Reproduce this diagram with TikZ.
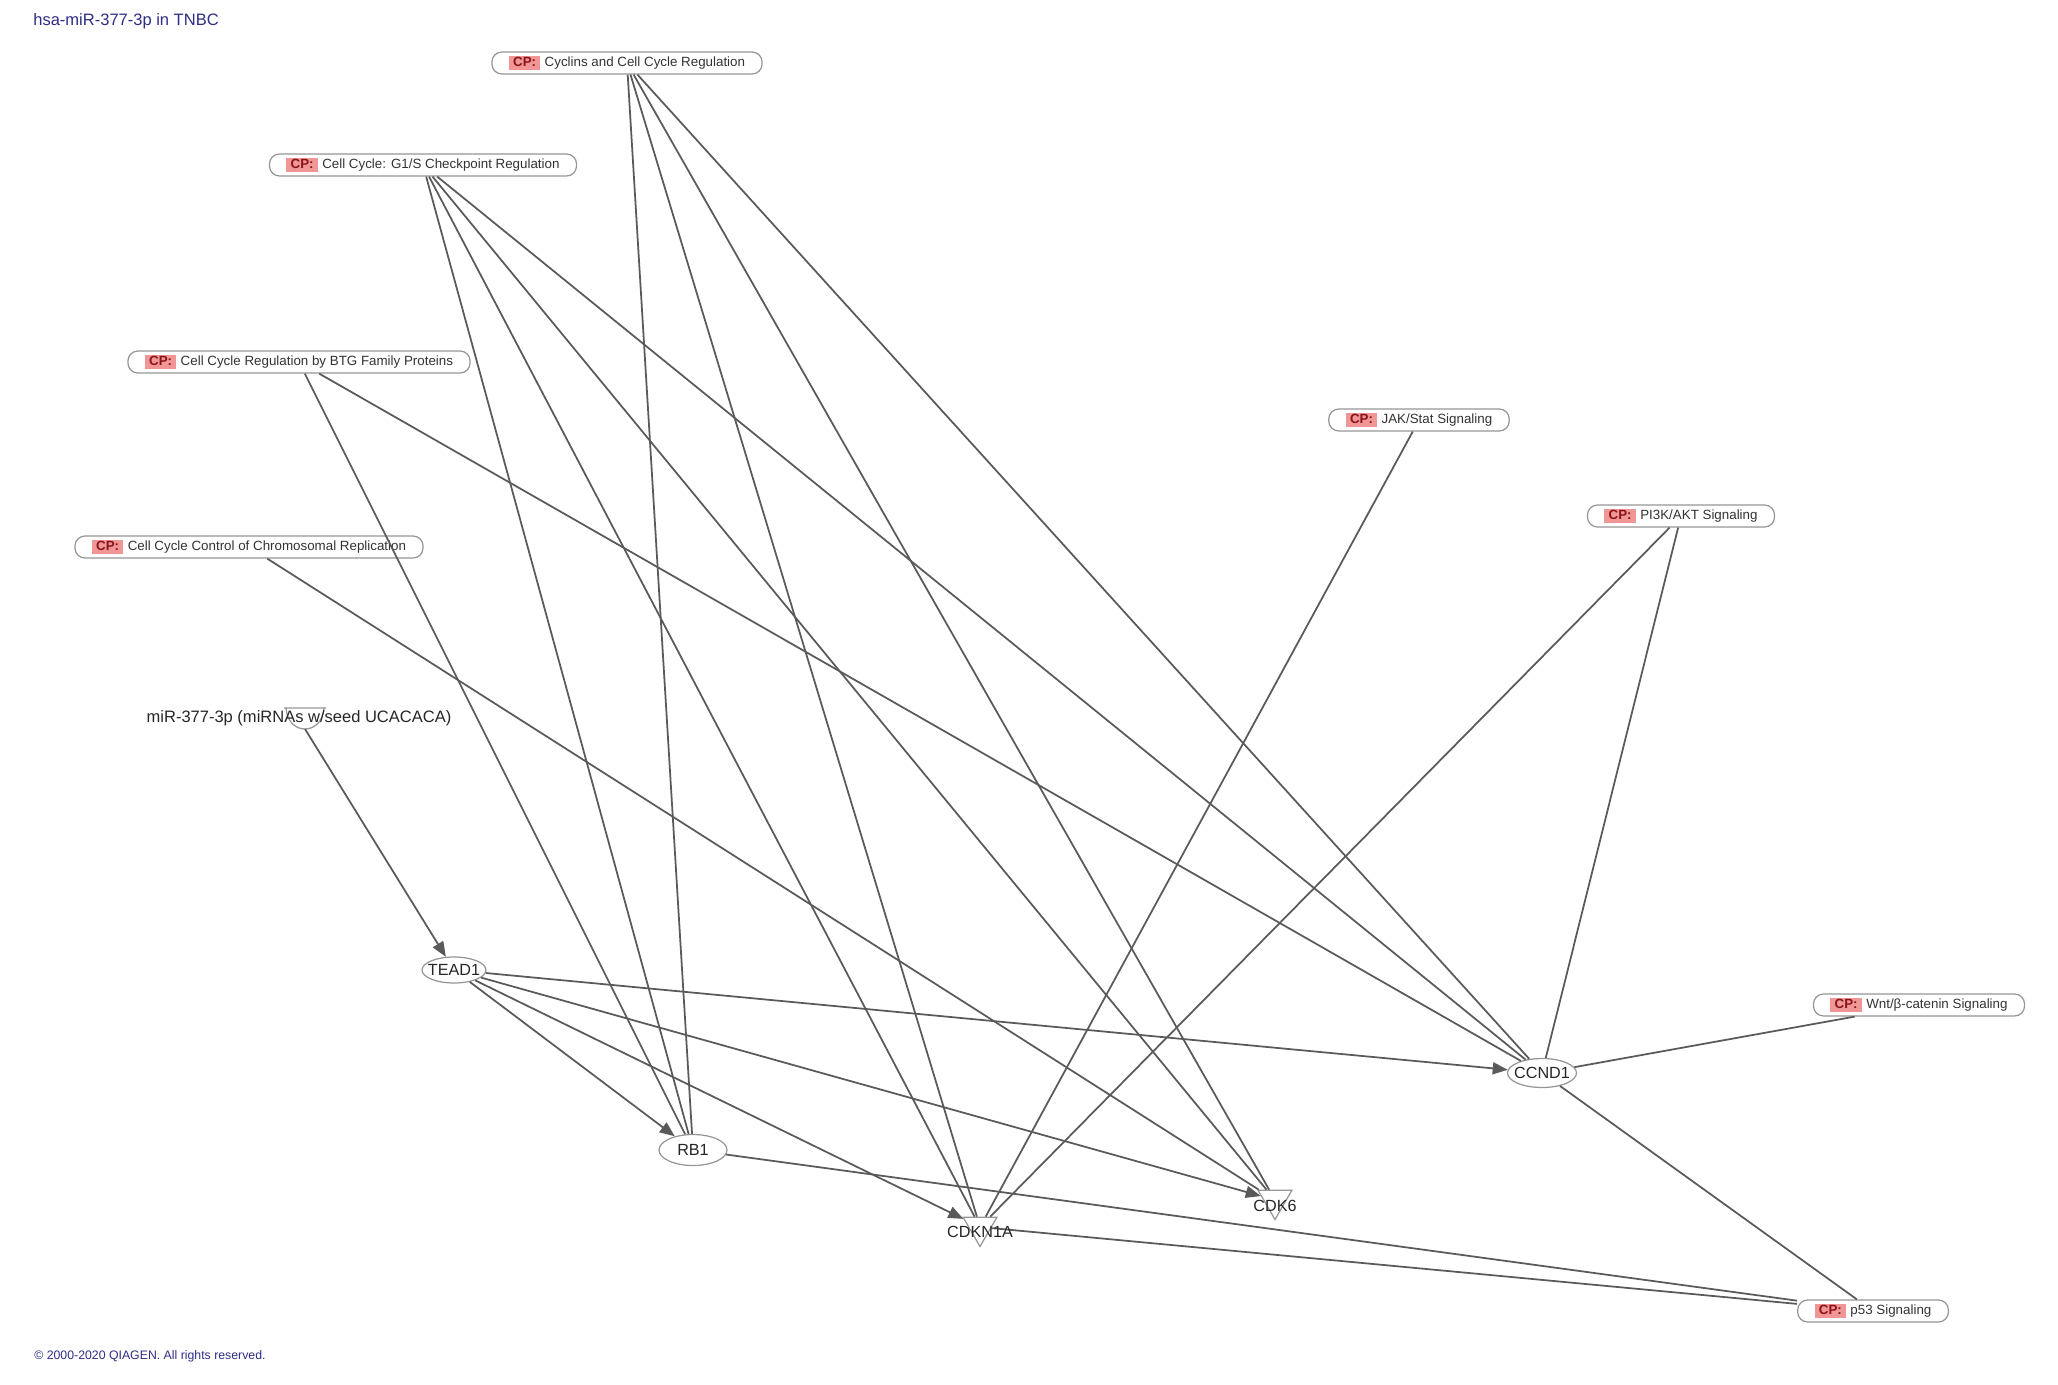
\documentclass[tikz,border=0pt]{standalone}
\usepackage{fontspec}
\setmainfont{Liberation Sans}
\usetikzlibrary{shapes.geometric,arrows.meta}

\definecolor{edgegray}{RGB}{90,90,90}
\definecolor{rimgray}{RGB}{150,150,150}
\definecolor{cppink}{RGB}{240,150,150}
\definecolor{cpred}{RGB}{140,20,25}
\definecolor{qiablue}{RGB}{45,45,135}

\newcommand{\cptag}{{\setlength{\fboxsep}{0pt}\colorbox{cppink}{\hspace{2.4pt}\textcolor{cpred}{\bfseries CP:}\hspace{2.4pt}\rule[-2pt]{0pt}{8pt}}}\hspace{2.5pt}}
\newcommand{\gname}[1]{\makebox[0pt]{#1}}

\begin{document}
\begin{tikzpicture}[x=0.02cm, y=-0.02cm,
cp/.style={rectangle, rounded corners=2mm, draw=rimgray, line width=0.7pt, fill=white, minimum height=4.4mm, inner xsep=3.4mm, inner ysep=0pt, font=\fontsize{7.6}{9}\selectfont, text=black!80},
gene/.style={ellipse, draw=rimgray, line width=0.7pt, fill=white, inner sep=0pt, font=\fontsize{9.2}{11}\selectfont, text=black!85},
enzyme/.style={regular polygon, regular polygon sides=3, shape border rotate=180, draw=rimgray, line width=0.7pt, fill=white, minimum size=7.8mm, inner sep=0pt},
genelabel/.style={font=\fontsize{9.2}{11}\selectfont, text=black!85, inner sep=0pt},
link/.style={draw=edgegray, line width=1pt},
act/.style={link, -{Triangle[length=3mm, width=2.4mm]}}
]
\useasboundingbox (0,0) rectangle (2058,1385);

\node[anchor=west, text=qiablue, font=\fontsize{9.4}{11}\selectfont, inner sep=0pt] (title) at (33,21) {hsa-miR-377-3p in TNBC};
\node[anchor=west, text=qiablue, font=\fontsize{7}{8}\selectfont, inner sep=0pt] (copy) at (34,1356) {© 2000-2020 QIAGEN. All rights reserved.};

% canonical pathways
\node[cp] (cyclins) at (627,63) {\cptag Cyclins and Cell Cycle Regulation};
\node[cp] (g1s) at (423,165) {\cptag Cell Cycle: G1/S Checkpoint Regulation};
\node[cp] (btg) at (299,362) {\cptag Cell Cycle Regulation by BTG Family Proteins};
\node[cp] (chrom) at (249,547) {\cptag Cell Cycle Control of Chromosomal Replication};
\node[cp] (jak) at (1419,420) {\cptag JAK/Stat Signaling};
\node[cp] (pi3k) at (1681,516) {\cptag PI3K/AKT Signaling};
\node[cp] (wnt) at (1919,1005) {\cptag Wnt/β-catenin Signaling};
\node[cp] (p53) at (1873,1311) {\cptag p53 Signaling};

% molecules
\draw[rimgray, line width=0.7pt] (284,708) -- (326,708) (286,708) .. controls (288,736) and (322,736) .. (324,708);
\coordinate (mirtip) at (305,729);
\node[genelabel, font=\fontsize{9.4}{11}\selectfont] (mir) at (299,718) {miR-377-3p (miRNAs w/seed UCACACA)};

\node[gene, minimum width=12.8mm, minimum height=5.2mm] (tead1) at (454,970) {\gname{TEAD1}};
\node[gene, minimum width=13.6mm, minimum height=6.2mm] (rb1) at (693,1150) {\gname{RB1}};
\node[gene, minimum width=13.8mm, minimum height=5.8mm] (ccnd1) at (1542,1073) {\gname{CCND1}};
\node[enzyme] (cdk6) at (1275,1200) {};
\node[enzyme] (cdkn1a) at (980,1227) {};

\draw[act] (mirtip) -- (tead1);
\foreach \t in {ccnd1,rb1,cdkn1a,cdk6}
  \draw[act] (tead1) -- (\t);
\foreach \t in {rb1,cdkn1a,cdk6,ccnd1} {
  \draw[link] (cyclins) -- (\t);
  \draw[link] (g1s) -- (\t);
}
\draw[link] (btg) -- (rb1);
\draw[link] (btg) -- (ccnd1);
\draw[link] (chrom) -- (cdk6);
\draw[link] (jak) -- (cdkn1a);
\draw[link] (pi3k) -- (cdkn1a);
\draw[link] (pi3k) -- (ccnd1);
\draw[link] (wnt) -- (ccnd1);
\draw[link] (p53) -- (ccnd1);
\draw[link] (p53) -- (rb1);
\draw[link] (p53) -- (cdkn1a);

\node[genelabel] (cdk6txt) at (1275,1206) {CDK6};
\node[genelabel] (cdkn1atxt) at (980,1232) {CDKN1A};
\end{tikzpicture}
\end{document}
